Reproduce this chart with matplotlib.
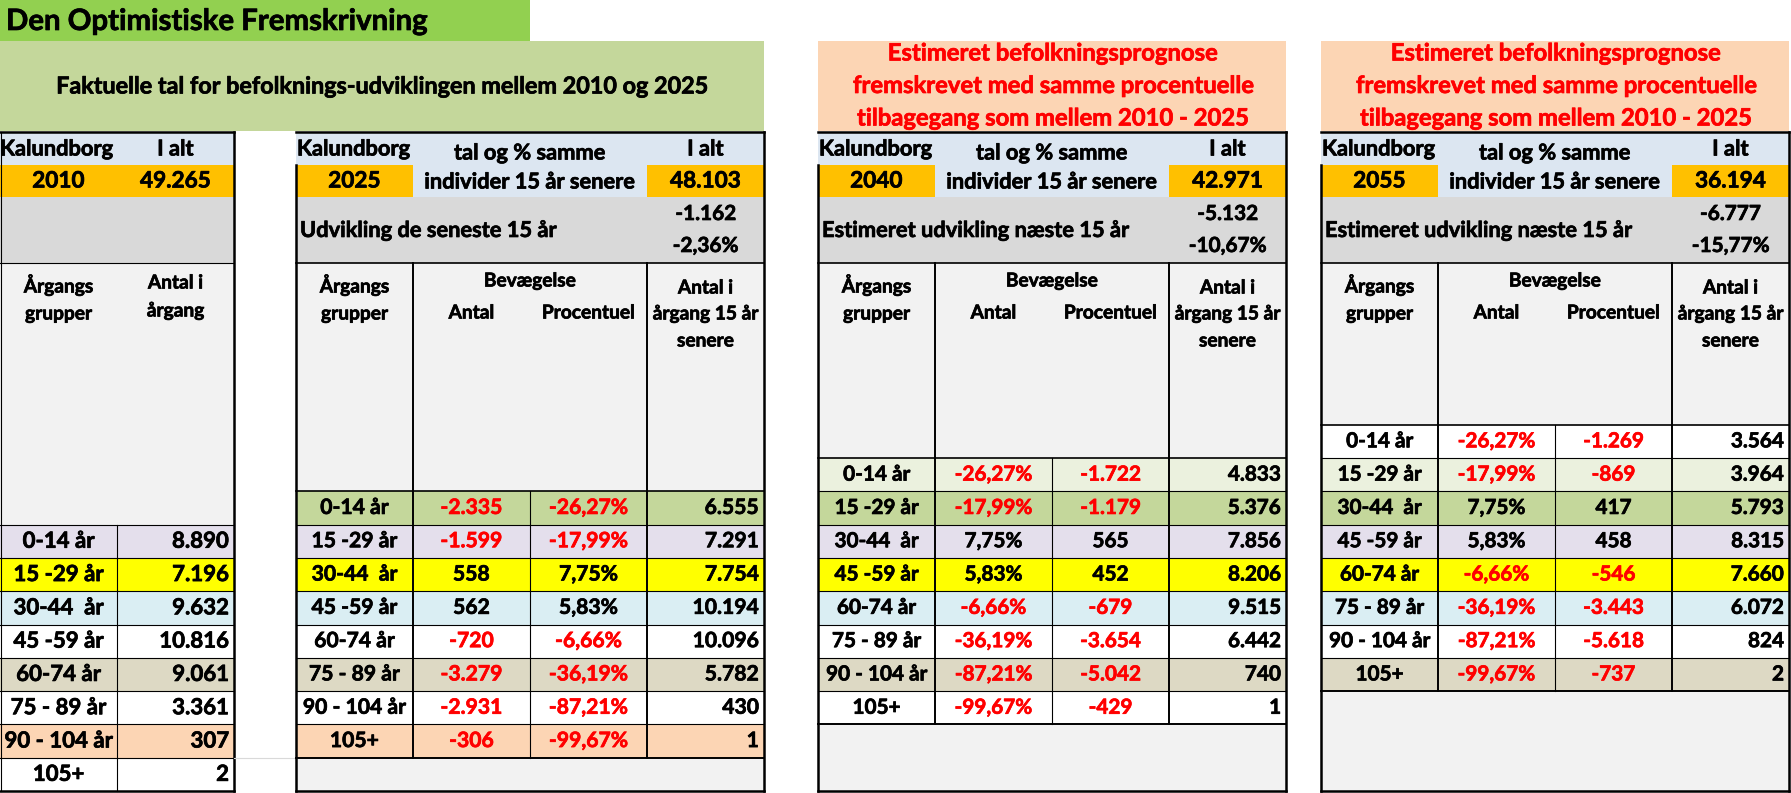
import matplotlib.pyplot as plt
import matplotlib.patheffects as pe
from matplotlib.patches import Rectangle

plt.rcParams['font.family'] = ['Lato', 'DejaVu Sans']

# ---- data read from the sheet ----
age_groups = ['0-14 år', '15 -29 år', '30-44  år', '45 -59 år',
              '60-74 år', '75 - 89 år', '90 - 104 år', '105+']
years = [2010, 2025, 2040, 2055]
totals = [49265, 48103, 42971, 36194]
change_abs = [-1162, -5132, -6777]
change_pct = [-2.36, -10.67, -15.77]
change_labels = ['Udvikling de seneste 15 år',
                 'Estimeret udvikling næste 15 år',
                 'Estimeret udvikling næste 15 år']

count_2010 = [8890, 7196, 9632, 10816, 9061, 3361, 307, 2]

move_pct = [-26.27, -17.99, 7.75, 5.83, -6.66, -36.19, -87.21, -99.67]
move_abs_2025 = [-2335, -1599, 558, 562, -720, -3279, -2931, -306]
count_2025 = [6555, 7291, 7754, 10194, 10096, 5782, 430, 1]
move_abs_2040 = [-1722, -1179, 565, 452, -679, -3654, -5042, -429]
count_2040 = [4833, 5376, 7856, 8206, 9515, 6442, 740, 1]
move_abs_2055 = [-1269, -869, 417, 458, -546, -3443, -5618, -737]
count_2055 = [3564, 3964, 5793, 8315, 7660, 6072, 824, 2]

title = 'Den Optimistiske Fremskrivning'
fact_title = 'Faktuelle tal for befolknings-udviklingen mellem 2010 og 2025'
est_title = ['Estimeret befolkningsprognose',
             'fremskrevet med samme procentuelle',
             'tilbagegang som mellem 2010 - 2025']

# ---- styles ----
GREEN = '#92D050'
LGREEN = '#C4D79B'
PEACH = '#FCD5B4'
LBLUE = '#DCE6F1'
ORANGE = '#FFC000'
GREY = '#D9D9D9'
PALE = '#F2F2F2'
RED = '#FF0000'
# colour follows each cohort diagonally through the tables
cohort_colors = ['white', '#EBF1DE', '#C4D79B', '#E4DFEC', '#FFFF00',
                 '#DAEEF3', 'white', '#DDD9C4', 'white', '#FCD5B4', 'white']

W = 117          # column width in px
ROW_H = 33.3
BOTTOM = 791
TOP = 132
THICK = 1.8
THIN = 0.8


def fmt_int(v):
    return f'{v:,}'.replace(',', '.')


def fmt_pct(v):
    return f'{v:.2f}%'.replace('.', ',')


fig = plt.figure(figsize=(17.91, 7.93), dpi=100)
ax = fig.add_axes([0, 0, 1, 1])
ax.set_xlim(0, 1791)
ax.set_ylim(793, 0)
ax.axis('off')
renderer = fig.canvas.get_renderer()


def fit_size(s, target, base=20):
    t = ax.text(0, 0, s, fontsize=base, fontweight='bold')
    w = t.get_window_extent(renderer).width
    t.remove()
    return base * target / w


# font sizes matched to the widths of sample strings in the sheet
TOP_FS = fit_size('individer 15 år senere', 211)
NUM_FS = fit_size('48.103', 71)
DEV_FS = fit_size('-1.162', 61)
HEAD_FS = fit_size('Bevægelse', 92)
ROW_FS = [fit_size('8.890', 57), fit_size('7.291', 54),
          fit_size('4.833', 53), fit_size('3.564', 53)]

HEAVY = [pe.withStroke(linewidth=0.5, foreground='black')]
HEAVY_RED = [pe.withStroke(linewidth=0.5, foreground=RED)]


def box(x, y, w, h, color):
    ax.add_patch(Rectangle((x, y), w, h, facecolor=color, edgecolor='none', zorder=1))


def hline(x0, x1, y, lw=THIN, color='black'):
    ax.plot([x0, x1], [y, y], color=color, lw=lw, solid_capstyle='projecting', zorder=3)


def vline(x, y0, y1, lw=THIN):
    ax.plot([x, x], [y0, y1], color='black', lw=lw, solid_capstyle='projecting', zorder=3)


def txt(x, y, s, fs, ha='center', color='black'):
    ax.text(x, y, s, ha=ha, va='center', fontsize=fs, fontweight='bold',
            color=color, zorder=4,
            path_effects=HEAVY_RED if color == RED else HEAVY)


def val_color(v):
    return RED if v < 0 else 'black'


# ---- top banners ----
box(0, 0, 530, 41, GREEN)
txt(6, 22, title, fit_size(title, 422), ha='left')
box(0, 41, 764, 90, LGREEN)
txt(382, 87, fact_title, fit_size(fact_title, 652))

est_fs = fit_size(est_title[1], 401)
for tx in [818, 1321]:
    box(tx, 41, 4 * W, 90, PEACH)
    for k, line in enumerate(est_title):
        txt(tx + 2 * W, 53 + k * 32.5, line, est_fs, color=RED)

# ---- table 2010 ----
x0 = 0
data_top = BOTTOM - 8 * ROW_H
box(x0, TOP, 2 * W, 33, LBLUE)
box(x0, 165, 2 * W, 32, ORANGE)
box(x0, 197, 2 * W, 66, GREY)
box(x0, 263, 2 * W, data_top - 263, PALE)
txt(x0, 149, 'Kalundborg', TOP_FS, ha='left')
txt(x0 + 1.5 * W, 149, 'I alt', TOP_FS)
txt(x0 + 0.5 * W, 181, str(years[0]), NUM_FS)
txt(x0 + 1.5 * W, 181, fmt_int(totals[0]), NUM_FS)
txt(x0 + 0.5 * W, 285, 'Årgangs', HEAD_FS)
txt(x0 + 0.5 * W, 314, 'grupper', HEAD_FS)
txt(x0 + 1.5 * W, 283, 'Antal i', HEAD_FS)
txt(x0 + 1.5 * W, 311, 'årgang', HEAD_FS)
for r, (age, v) in enumerate(zip(age_groups, count_2010)):
    y = data_top + r * ROW_H
    box(x0, y, 2 * W, ROW_H, cohort_colors[r + 3])
    txt(x0 + 0.5 * W, y + ROW_H / 2, age, ROW_FS[0])
    txt(x0 + 2 * W - 5, y + ROW_H / 2, fmt_int(v), ROW_FS[0], ha='right')
    hline(x0, x0 + 2 * W, y)
vline(x0 + W, data_top, BOTTOM)
hline(x0, x0 + 2 * W, TOP, THICK)
hline(x0, x0 + 2 * W, 263)
hline(x0, x0 + 2 * W, BOTTOM, THICK)
vline(x0 + 0.5, TOP, BOTTOM)
vline(x0 + 2 * W, TOP, BOTTOM, THICK)
hline(2 * W, 296, 758, color=GREY)

# ---- tables 2025, 2040, 2055 ----
table_x = [296, 818, 1321]
moves_abs = [move_abs_2025, move_abs_2040, move_abs_2055]
counts = [count_2025, count_2040, count_2055]
for t, tx in enumerate(table_x, start=1):
    data_top = BOTTOM - (8 + t) * ROW_H
    data_bot = data_top + 8 * ROW_H
    fs = ROW_FS[t]
    box(tx, TOP, 4 * W, 33, LBLUE)
    box(tx, 165, W, 32, ORANGE)
    box(tx + W, 165, 2 * W, 32, LBLUE)
    box(tx + 3 * W, 165, W, 32, ORANGE)
    box(tx, 197, 4 * W, 66, GREY)
    box(tx, 263, 4 * W, BOTTOM - 263, PALE)

    txt(tx + 1, 149, 'Kalundborg', TOP_FS, ha='left')
    txt(tx + 2 * W, 153, 'tal og % samme', TOP_FS)
    txt(tx + 3.5 * W, 149, 'I alt', TOP_FS)
    txt(tx + 0.5 * W, 181, str(years[t]), NUM_FS)
    txt(tx + 2 * W, 182, 'individer 15 år senere', TOP_FS)
    txt(tx + 3.5 * W, 181, fmt_int(totals[t]), NUM_FS)

    txt(tx + 4, 230, change_labels[t - 1], TOP_FS, ha='left')
    txt(tx + 3.5 * W, 214, fmt_int(change_abs[t - 1]), DEV_FS)
    txt(tx + 3.5 * W, 246, fmt_pct(change_pct[t - 1]), DEV_FS)

    txt(tx + 0.5 * W, 285, 'Årgangs', HEAD_FS)
    txt(tx + 0.5 * W, 314, 'grupper', HEAD_FS)
    txt(tx + 2 * W, 281, 'Bevægelse', HEAD_FS)
    txt(tx + 1.5 * W, 313, 'Antal', HEAD_FS)
    txt(tx + 2.5 * W, 313, 'Procentuel', HEAD_FS)
    txt(tx + 3.5 * W, 288, 'Antal i', HEAD_FS)
    txt(tx + 3.5 * W, 314, 'årgang 15 år', HEAD_FS)
    txt(tx + 3.5 * W, 341, 'senere', HEAD_FS)

    for r in range(8):
        y = data_top + r * ROW_H
        yc = y + ROW_H / 2
        box(tx, y, 4 * W, ROW_H, cohort_colors[r + 3 - t])
        a, p, c = moves_abs[t - 1][r], move_pct[r], counts[t - 1][r]
        txt(tx + 0.5 * W, yc, age_groups[r], fs)
        if t == 1:
            txt(tx + 1.5 * W, yc, fmt_int(a), fs, color=val_color(a))
            txt(tx + 2.5 * W, yc, fmt_pct(p), fs, color=val_color(p))
        else:
            txt(tx + 1.5 * W, yc, fmt_pct(p), fs, color=val_color(p))
            txt(tx + 2.5 * W, yc, fmt_int(a), fs, color=val_color(a))
        txt(tx + 4 * W - 5, yc, fmt_int(c), fs, ha='right')
        hline(tx, tx + 4 * W, y, THIN if r else 1.2)
    hline(tx, tx + 4 * W, data_bot, 1.4)

    vline(tx + W, 263, data_bot, 1.4)
    vline(tx + 2 * W, data_top, data_bot, THIN)
    vline(tx + 3 * W, 263, data_bot, 1.4)
    hline(tx, tx + 4 * W, TOP, THICK)
    hline(tx, tx + 4 * W, 263, 1.2)
    hline(tx, tx + 4 * W, BOTTOM, THICK)
    vline(tx, 165, BOTTOM, THICK)
    vline(tx + 4 * W, TOP, BOTTOM, THICK)

fig.savefig('out.png', dpi=100)
